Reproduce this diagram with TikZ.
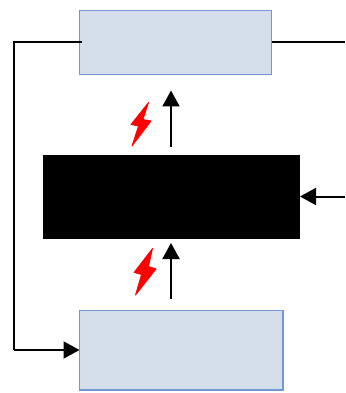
\documentclass[tikz,border=0pt]{standalone}
\usetikzlibrary{arrows.meta}
\definecolor{boxfill}{HTML}{D5DFEC}
\definecolor{boxline}{HTML}{7397D2}
\tikzset{
  bluebox/.style={draw=boxline,fill=boxfill,line width=1.5pt,inner sep=0pt,outer sep=0pt,anchor=north west},
  blackbox/.style={fill=black,inner sep=0pt,outer sep=0pt,anchor=north west},
  conn/.style={draw=black,line width=2pt},
  arr/.style={conn,-{Triangle[length=16pt,width=17pt]}},
  bolt/.style={fill=red,draw=red,line width=0.8pt,line join=round}
}
\begin{document}
\begin{tikzpicture}[x=1pt,y=-1pt]
\useasboundingbox (0,0) rectangle (345,393);
\node[bluebox,minimum width=192pt,minimum height=64pt] (top) at (79.5,10.5) {};
\node[bluebox,minimum width=203.5pt,minimum height=79.5pt] (bot) at (79.5,310.5) {};
\node[blackbox,minimum width=257pt,minimum height=84pt] (core) at (43,155) {};
\coordinate (tl) at (82,42);
\coordinate (tr) at (345,42);
\coordinate (rs) at (345,196.5);
\coordinate (cl) at (14,42);
\coordinate (cb) at (14,350);
\coordinate (up1s) at (171,147);
\coordinate (up1e) at (171,90.5);
\coordinate (up2s) at (171,299);
\coordinate (up2e) at (171,243);
\draw[conn] (tl) -- (cl) -- (cb);
\draw[arr] (cb) -- (cb -| bot.west);
\draw[conn] (top.east |- tr) -- (tr);
\draw[arr] (rs) -- (rs -| core.east);
\draw[arr] (up1s) -- (up1e);
\draw[arr] (up2s) -- (up2e);
\fill[bolt] (148.5,102.5) -- (131,124.5) -- (138.5,126) -- (132,146) -- (151,121) -- (143,119.5) -- cycle;
\fill[bolt] (152.5,248.5) -- (134,272.5) -- (141.5,274.5) -- (135.5,295) -- (156,269) -- (148.5,266.5) -- cycle;
\end{tikzpicture}
\end{document}
